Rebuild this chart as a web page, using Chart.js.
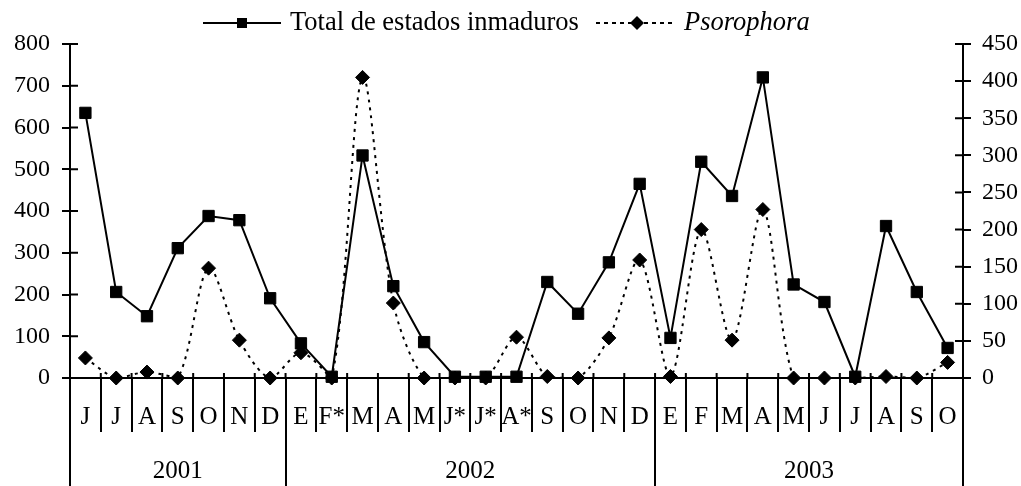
<!DOCTYPE html>
<html>
<head>
<meta charset="utf-8">
<script src="https://cdn.jsdelivr.net/npm/chart.js@4"></script>
<style>
  body { margin: 0; background: #fff; }
  #wrap { position: relative; width: 1021px; height: 486px; }
  .leg { position: absolute; font-family: "Liberation Serif", serif; font-size: 26.5px; line-height: 30px; color: #000; white-space: nowrap; }
  .sym { position: absolute; }
</style>
</head>
<body>
<div id="wrap">
  <canvas id="chart" width="1021" height="486"></canvas>
  <svg class="sym" style="left:203px;top:15px" width="80" height="16">
    <line x1="0" y1="8" x2="78" y2="8" stroke="#000" stroke-width="2"/>
    <rect x="34" y="3" width="10" height="10" fill="#000"/>
  </svg>
  <div class="leg" style="left:290px;top:6px">Total de estados inmaduros</div>
  <svg class="sym" style="left:596px;top:15px" width="78" height="16">
    <line x1="0" y1="8" x2="76" y2="8" stroke="#000" stroke-width="2" stroke-dasharray="4,4"/>
    <polygon points="41,1 48,8 41,15 34,8" fill="#000"/>
  </svg>
  <div class="leg" style="left:684px;top:6px;font-style:italic">Psorophora</div>
</div>
<script>
// months from June 2001 to October 2003
const months = ["J", "J", "A", "S", "O", "N", "D",
  "E", "F*", "M", "A", "M", "J*", "J*", "A*", "S", "O", "N", "D",
  "E", "F", "M", "A", "M", "J", "J", "A", "S", "O"];
const years = ["2001", "2002", "2003"];
const yearLengths = [7, 12, 10];

// left axis
const total = [635, 206, 148, 311, 388, 378, 191,
  83, 3, 533, 220, 86, 3, 3, 3, 230, 154, 277, 465,
  96, 518, 436, 720, 224, 182, 3, 364, 206, 72];
// right axis
const psorophora = [27, 0, 8, 0, 148, 51, 0,
  34, 0, 405, 101, 0, 0, 0, 55, 2, 0, 54, 159,
  2, 200, 51, 227, 0, 0, 0, 2, 0, 21];

// year boundaries and centres on the index scale
const yearBounds = [-0.5];
const yearCentres = {};
yearLengths.forEach((n, i) => {
  const start = yearBounds[yearBounds.length - 1];
  yearCentres[start + n / 2] = years[i];
  yearBounds.push(start + n);
});

const font = { family: "Liberation Serif", size: 24 };
const monthFont = { family: "Liberation Serif", size: 25 };

// ticks that cross the axis lines
const crossTicks = {
  id: "crossTicks",
  afterDraw(chart) {
    const ctx = chart.ctx;
    const { x, y, y1 } = chart.scales;
    ctx.save();
    ctx.strokeStyle = "#000";
    ctx.lineWidth = 2;
    ctx.beginPath();
    y.ticks.forEach(t => {
      const p = y.getPixelForValue(t.value);
      ctx.moveTo(y.right, p); ctx.lineTo(y.right + 8, p);
    });
    y1.ticks.forEach(t => {
      const p = y1.getPixelForValue(t.value);
      ctx.moveTo(y1.left - 8, p); ctx.lineTo(y1.left, p);
    });
    for (let i = 0; i <= months.length; i++) {
      const p = x.getPixelForValue(i - 0.5);
      ctx.moveTo(p, x.top - 5); ctx.lineTo(p, x.top);
    }
    ctx.stroke();
    ctx.restore();
  }
};

new Chart(document.getElementById("chart"), {
  type: "line",
  data: {
    labels: months,
    datasets: [
      {
        label: "Total de estados inmaduros",
        data: total,
        yAxisID: "y",
        borderColor: "#000",
        backgroundColor: "#000",
        borderWidth: 2,
        pointStyle: "rect",
        pointRadius: 8,
        pointBorderWidth: 1,
        tension: 0,
        clip: false
      },
      {
        label: "Psorophora",
        data: psorophora,
        yAxisID: "y1",
        borderColor: "#000",
        backgroundColor: "#000",
        borderWidth: 2,
        borderDash: [3, 5],
        pointStyle: "rectRot",
        pointRadius: 7,
        pointBorderWidth: 1,
        tension: 0.3,
        clip: false
      }
    ]
  },
  options: {
    responsive: false,
    animation: false,
    layout: { padding: { top: 44, left: 0, right: 0, bottom: 0 } },
    plugins: { legend: { display: false }, tooltip: { enabled: false } },
    scales: {
      y: {
        position: "left",
        min: 0, max: 800,
        ticks: { stepSize: 100, color: "#000", font: font, padding: 12 },
        grid: { drawOnChartArea: false, tickLength: 8, color: "#000", lineWidth: 2 },
        border: { color: "#000", width: 2 },
        afterFit(s) { s.width = 70; }
      },
      y1: {
        position: "right",
        min: 0, max: 450,
        ticks: { stepSize: 50, color: "#000", font: font, padding: 11 },
        grid: { drawOnChartArea: false, tickLength: 8, color: "#000", lineWidth: 2 },
        border: { color: "#000", width: 2 },
        afterFit(s) { s.width = 58; }
      },
      x: {
        position: "bottom",
        offset: true,
        ticks: { color: "#000", font: monthFont, padding: -30, maxRotation: 0, autoSkip: false },
        grid: { offset: true, drawOnChartArea: false, tickLength: 54, color: "#000", lineWidth: 2 },
        border: { color: "#000", width: 2 },
        afterFit(s) { s.height = 54; }
      },
      x2: {
        type: "linear",
        position: "bottom",
        min: -0.5, max: 28.5,
        afterBuildTicks(s) {
          const vals = yearBounds.concat(Object.keys(yearCentres).map(Number));
          s.ticks = vals.sort((a, b) => a - b).map(v => ({ value: v }));
        },
        ticks: {
          color: "#000", font: { family: "Liberation Serif", size: 25 },
          padding: -30, maxRotation: 0, autoSkip: false,
          callback: v => yearCentres[v] || ""
        },
        grid: {
          drawOnChartArea: false, tickLength: 54, lineWidth: 2,
          color: c => (yearBounds.includes(c.tick.value) ? "#000" : "rgba(0,0,0,0)")
        },
        border: { display: false },
        afterFit(s) { s.height = 54; }
      }
    }
  },
  plugins: [crossTicks]
});
</script>
</body>
</html>
